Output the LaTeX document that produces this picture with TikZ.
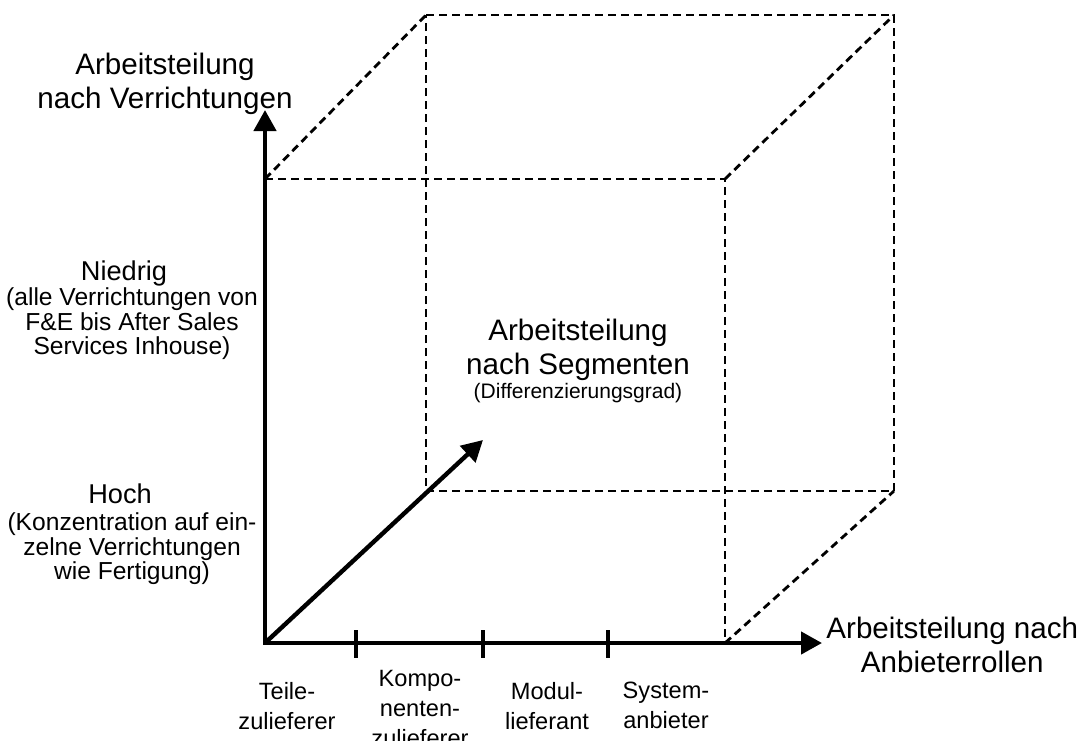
\documentclass[tikz,border=0pt]{standalone}
\usepackage{fontspec}
\setmainfont{Liberation Sans}
\usetikzlibrary{positioning,arrows.meta}

\tikzset{
    axis/.style={line width=2.2pt,{Triangle[length=10.5pt,width=11pt]}-{Triangle[length=10.5pt,width=11pt]}},
    diagaxis/.style={line width=2.2pt,-{Triangle[length=10.5pt,width=11pt]}},
    cubeline/.style={line width=1.4pt,dash pattern=on 4pt off 2.5pt},
    tickmark/.style={line width=1.6pt},
    biglabel/.style={align=center,inner sep=0pt,font=\fontsize{14.8}{17}\selectfont},
    levellabel/.style={align=center,inner sep=0pt,font=\fontsize{13.6}{15}\selectfont},
    leveltext/.style={align=center,inner sep=0pt,font=\fontsize{12.3}{12.2}\selectfont},
    rolelabel/.style={align=center,inner sep=0pt,font=\fontsize{11.8}{15}\selectfont},
    smalllabel/.style={align=center,inner sep=0pt,font=\fontsize{10.5}{11.5}\selectfont},
}

\begin{document}
\begin{tikzpicture}[x=0.5pt,y=-0.5pt]
    \useasboundingbox (0,0) rectangle (1083,740);
    \clip (0,0) rectangle (1083,740);

    % Cube corners
    \coordinate (fbl) at (265,643);
    \coordinate (fbr) at (725,643);
    \coordinate (ftl) at (265,179);
    \coordinate (ftr) at (725,179);
    \coordinate (bbl) at (426,491);
    \coordinate (bbr) at (894,491);
    \coordinate (btl) at (426,15);
    \coordinate (btr) at (894,15);

    % Dashed cube
    \draw[cubeline] (ftl) -- (ftr) -- (fbr);
    \draw[cubeline] (btl) -- (btr) -- (bbr) -- (bbl) -- cycle;
    \draw[cubeline] (ftl) -- (btl);
    \draw[cubeline] (ftr) -- (btr);
    \draw[cubeline] (fbr) -- (bbr);

    % Axes
    \coordinate (ytip) at (265,110);
    \coordinate (xtip) at (822,643);
    \coordinate (ztip) at (483,440);
    \draw[axis] (ytip) -- (fbl) -- (xtip);
    \draw[diagaxis] (fbl) -- (ztip);
    \foreach \x in {356,483,608}
        \draw[tickmark] (\x,630) -- (\x,658);

    % Axis labels
    \node[biglabel] (vlabel) at (165,84) {Arbeitsteilung\\nach Verrichtungen};
    \node[biglabel,anchor=west] (xlabel) at (826,645) {Arbeitsteilung nach\\Anbieterrollen};
    \node[biglabel] (segtitle) at (578,350) {Arbeitsteilung\\nach Segmenten};
    \node[smalllabel,below=1pt of segtitle] (segsub) {(Differenzierungsgrad)};

    % Levels on the vertical axis
    \node[levellabel,anchor=base] (niedrig) at (124,280) {Niedrig};
    \node[leveltext,below=0.7pt of niedrig,xshift=4pt] (niedrigtext) {(alle Verrichtungen von\\F\&E bis After Sales\\Services Inhouse)};
    \node[levellabel,anchor=base] (hoch) at (120,503) {Hoch};
    \node[leveltext,below=4.5pt of hoch,xshift=6pt] (hochtext) {(Konzentration auf ein-\\zelne Verrichtungen\\wie Fertigung)};

    % Roles on the horizontal axis
    \node[rolelabel,anchor=north] (teile) at (287,682) {Teile-\\zulieferer};
    \node[rolelabel,anchor=north] (kompo) at (420,670) {Kompo-\\nenten-\\zulieferer};
    \node[rolelabel,anchor=north] (modul) at (547,682) {Modul-\\lieferant};
    \node[rolelabel,anchor=north] (system) at (666,682) {System-\\anbieter};
\end{tikzpicture}
\end{document}
